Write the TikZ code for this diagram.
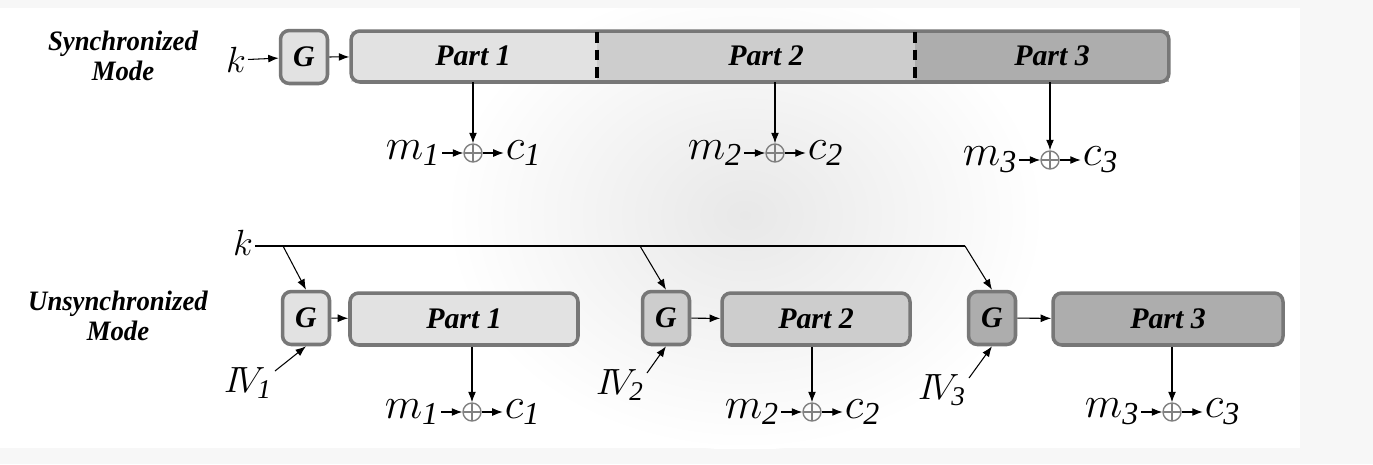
\documentclass[tikz,border=0pt]{standalone}
\usepackage{fontspec}
\setmainfont{Liberation Serif}
\usetikzlibrary{calc}
\usetikzlibrary{positioning}
\usetikzlibrary{arrows.meta}
\definecolor{edgegray}{HTML}{777777}
\definecolor{fillone}{HTML}{E2E2E2}
\definecolor{filltwo}{HTML}{CDCDCD}
\definecolor{fillthree}{HTML}{ADADAD}
\tikzset{
    box/.style={draw=edgegray, line width=2pt, rounded corners=5pt, inner sep=0pt,
        font=\fontsize{17}{17}\selectfont\bfseries\itshape},
    gen/.style={box, minimum width=0.94cm, minimum height=1.06cm},
    xor/.style={circle, draw=gray, thick, minimum size=0.36cm, inner sep=0pt,
        path picture={\draw[gray, thick] (path picture bounding box.north) -- (path picture bounding box.south)
            (path picture bounding box.west) -- (path picture bounding box.east);}},
    mlab/.style={font=\fontsize{26}{26}\selectfont, inner sep=1pt},
    mode/.style={font=\fontsize{16}{17}\selectfont\bfseries\itshape, align=center, xscale=0.95},
    arr/.style={-{Latex[length=6pt, width=4.5pt]}, semithick},
}
\begin{document}
\begin{tikzpicture}[x=0.02cm, y=-0.02cm]
        \useasboundingbox (0,0) rectangle (1373,464);
        % page background
        \fill[black!3] (0,0) rectangle (1373,464);
        \fill[white] (0,8) rectangle (1300,448);
        \begin{scope}
            \clip (0,8) rectangle (1300,448);
            \shade[inner color=black!9, outer color=white] (745,215) ellipse (300 and 235);
        \end{scope}

        % synchronized mode
        \node[mode] at (123,56) {Synchronized\\Mode};
        \node[mlab, font=\fontsize{22}{22}\selectfont] (ks) at (236,60) {$k$};
        \node[gen, fill=fillone] (gs) at (304,57) {G};
        \fill[fillone] (351,31) rectangle (597,82);
        \fill[filltwo] (597,31) rectangle (915,82);
        \fill[fillthree] (915,31) rectangle (1169,82);
        \node[box, minimum width=16.36cm, minimum height=1.02cm] (bar) at (760,56.5) {};
        \foreach \x in {597,915}
            \draw[line width=2.5pt, dash pattern=on 6pt off 4pt] (\x,32) -- (\x,81);
        \node[font=\fontsize{17}{17}\selectfont\bfseries\itshape] (sp1) at (473,56) {Part 1};
        \node[font=\fontsize{17}{17}\selectfont\bfseries\itshape] (sp2) at (766,56) {Part 2};
        \node[font=\fontsize{17}{17}\selectfont\bfseries\itshape] (sp3) at (1052,56) {Part 3};
        \draw[arr] (ks) -- (gs);
        \draw[arr] (gs) -- (bar);

        \foreach \i/\x/\y in {1/473/153, 2/775/153, 3/1050/160} {
            \node[xor] (sx\i) at (\x,\y) {};
            \node[mlab, left=12pt of sx\i] (sm\i) {$m_{\mathit{\i}}$};
            \node[mlab, right=12pt of sx\i] (sc\i) {$c_{\mathit{\i}}$};
            \draw[arr] (sm\i) -- (sx\i);
            \draw[arr] (sx\i) -- (sc\i);
            \draw[arr] (\x,82) -- (sx\i);
        }

        % unsynchronized mode
        \node[mode] at (118,316) {Unsynchronized\\Mode};
        \node[mlab, font=\fontsize{22}{22}\selectfont] (ku) at (243,243) {$k$};
        \coordinate (kend) at (965,246);
        \draw[semithick] (ku.east |- kend) -- (kend);

        \foreach \i/\gx/\px/\pw/\cl/\xx/\tap/\vx/\vy in {1/306/464/228/fillone/472/283/248/383, 2/666/816/188/filltwo/812/640/620/385, 3/992/1168/230/fillthree/1172/965/942/390} {
            \node[gen, fill=\cl] (g\i) at (\gx,318) {G};
            \node[box, fill=\cl, minimum width=\pw*0.02cm, minimum height=1.04cm] (p\i) at (\px,319) {Part \i};
            \node[mlab, font=\fontsize{22}{22}\selectfont] (iv\i) at (\vx,\vy) {$I\!V_{\mathit{\i}}$};
            \coordinate (t\i) at (\tap,246);
            \coordinate (s\i) at (\vx+27,\vy-12);
            \draw[arr] (t\i) -- (g\i.north);
            \draw[arr] (s\i) -- (g\i.south);
            \draw[arr] (g\i) -- (p\i);
            \node[xor] (ux\i) at (\xx,412) {};
            \node[mlab, left=12pt of ux\i] (um\i) {$m_{\mathit{\i}}$};
            \node[mlab, right=12pt of ux\i] (uc\i) {$c_{\mathit{\i}}$};
            \draw[arr] (um\i) -- (ux\i);
            \draw[arr] (ux\i) -- (uc\i);
            \draw[arr] (p\i.south -| ux\i) -- (ux\i);
        }
    \end{tikzpicture}
\end{document}
